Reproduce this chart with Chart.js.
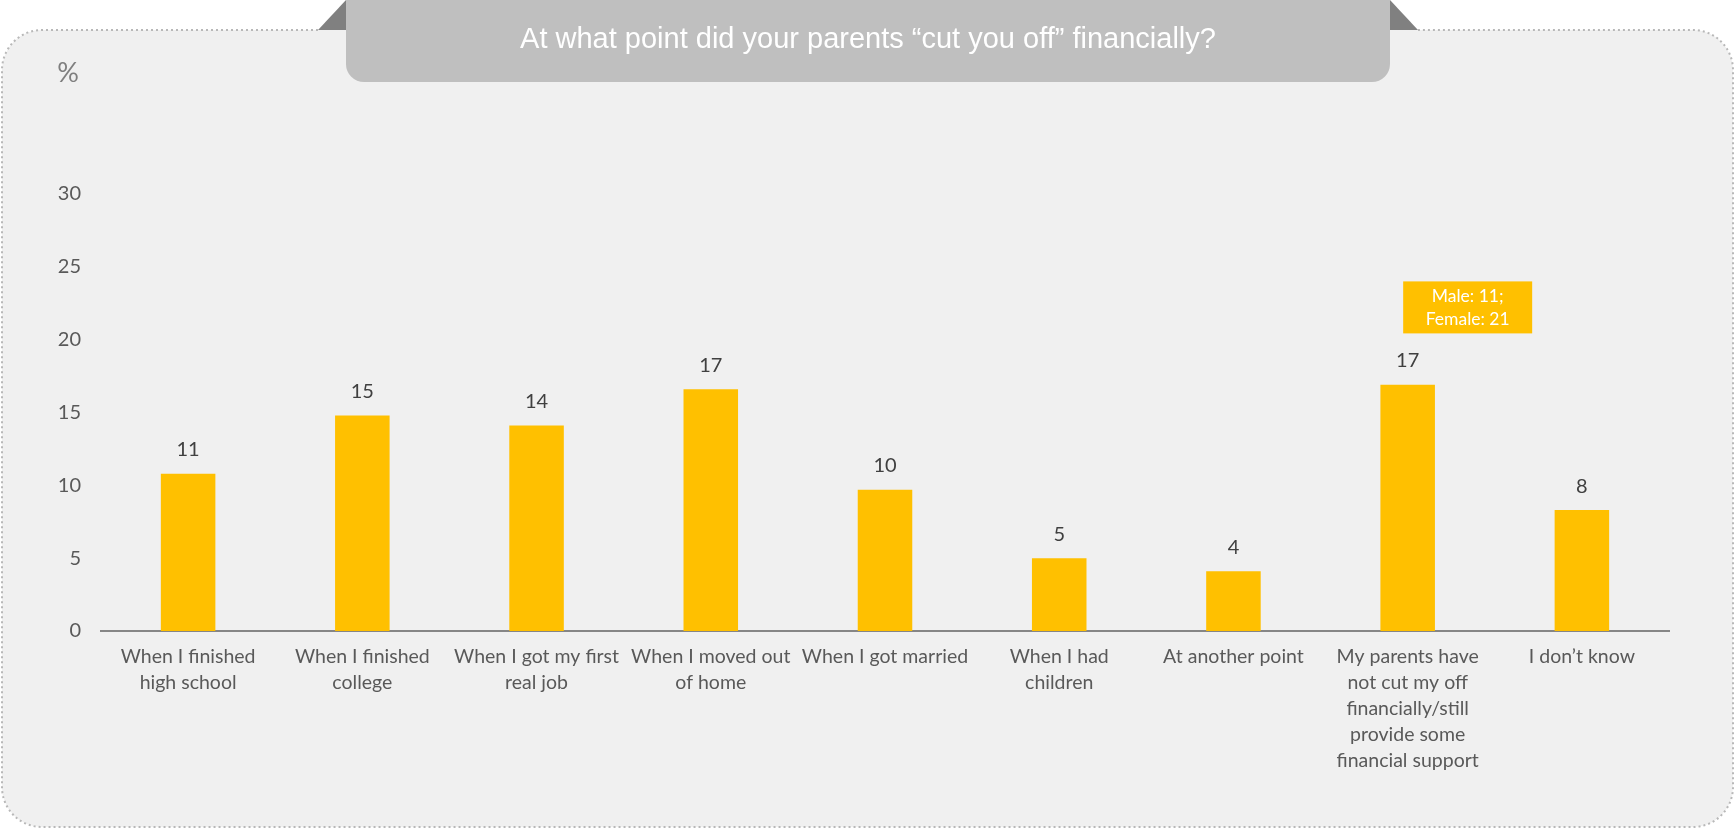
<!DOCTYPE html>
<html>
<head>
<meta charset="utf-8">
<script src="https://cdn.jsdelivr.net/npm/chart.js@4.4.1/dist/chart.umd.min.js"></script>
<style>
  html, body { margin: 0; padding: 0; background: #ffffff; }
  canvas { display: block; }
</style>
</head>
<body>
<canvas id="grafico" width="1735" height="829"></canvas>
<script>
// Datos del gráfico
var categorias = [
    ['When I finished', 'high school'],
    ['When I finished', 'college'],
    ['When I got my first', 'real job'],
    ['When I moved out', 'of home'],
    'When I got married',
    ['When I had', 'children'],
    'At another point',
    ['My parents have', 'not cut my off', 'financially/still', 'provide some', 'financial support'],
    'I don’t know'
];
var valores = [10.8, 14.8, 14.1, 16.6, 9.7, 5.0, 4.1, 16.9, 8.3];
var ticksY = [0, 5, 10, 15, 20, 25, 30];
var titulo = 'At what point did your parents “cut you off” financially?';
var unidad = '%';
var notaGenero = ['Male: 11;', 'Female: 21'];

var fuente = 'Lato, "Open Sans", sans-serif';
var amarillo = '#FFC000';

// Panel de fondo con borde punteado y la pestaña del título
var fondoPanel = {
    id: 'fondoPanel',
    beforeDraw: function(chart) {
        var ctx = chart.ctx;
        ctx.save();
        ctx.fillStyle = '#ffffff';
        ctx.fillRect(0, 0, chart.width, chart.height);

        var x0 = 2, y0 = 30, x1 = 1733, y1 = 827, r = 40;
        ctx.beginPath();
        ctx.moveTo(x0 + r, y0);
        ctx.lineTo(x1 - r, y0);
        ctx.arcTo(x1, y0, x1, y0 + r, r);
        ctx.lineTo(x1, y1 - r);
        ctx.arcTo(x1, y1, x1 - r, y1, r);
        ctx.lineTo(x0 + r, y1);
        ctx.arcTo(x0, y1, x0, y1 - r, r);
        ctx.lineTo(x0, y0 + r);
        ctx.arcTo(x0, y0, x0 + r, y0, r);
        ctx.closePath();
        ctx.fillStyle = '#f0f0f0';
        ctx.fill();

        // borde punteado, sin el tramo que tapa la pestaña
        ctx.beginPath();
        ctx.moveTo(318, y0);
        ctx.lineTo(x0 + r, y0);
        ctx.arcTo(x0, y0, x0, y0 + r, r);
        ctx.lineTo(x0, y1 - r);
        ctx.arcTo(x0, y1, x0 + r, y1, r);
        ctx.lineTo(x1 - r, y1);
        ctx.arcTo(x1, y1, x1, y1 - r, r);
        ctx.lineTo(x1, y0 + r);
        ctx.arcTo(x1, y0, x1 - r, y0, r);
        ctx.lineTo(1418, y0);
        ctx.setLineDash([2, 3]);
        ctx.lineWidth = 2;
        ctx.strokeStyle = '#b8b8b8';
        ctx.stroke();
        ctx.setLineDash([]);

        // pestaña del título
        var bx0 = 346, bx1 = 1390, by1 = 82, br = 18;
        ctx.fillStyle = '#808080';
        ctx.beginPath();
        ctx.moveTo(318, 30); ctx.lineTo(bx0, 0); ctx.lineTo(bx0, 30); ctx.closePath();
        ctx.fill();
        ctx.beginPath();
        ctx.moveTo(bx1, 0); ctx.lineTo(1418, 30); ctx.lineTo(bx1, 30); ctx.closePath();
        ctx.fill();

        ctx.fillStyle = '#bfbfbf';
        ctx.beginPath();
        ctx.moveTo(bx0, 0);
        ctx.lineTo(bx1, 0);
        ctx.lineTo(bx1, by1 - br);
        ctx.arcTo(bx1, by1, bx1 - br, by1, br);
        ctx.lineTo(bx0 + br, by1);
        ctx.arcTo(bx0, by1, bx0, by1 - br, br);
        ctx.closePath();
        ctx.fill();

        ctx.fillStyle = '#ffffff';
        ctx.font = '29px "Liberation Sans", Arial, sans-serif';
        ctx.textAlign = 'center';
        ctx.textBaseline = 'alphabetic';
        ctx.fillText(titulo, (bx0 + bx1) / 2, 48);

        ctx.fillStyle = '#7f7f7f';
        ctx.font = '27px ' + fuente;
        ctx.textAlign = 'center';
        ctx.textBaseline = 'middle';
        ctx.fillText(unidad, 68, 73);
        ctx.restore();
    }
};

// Valores encima de cada barra y nota por género
var etiquetas = {
    id: 'etiquetas',
    afterDatasetsDraw: function(chart) {
        var ctx = chart.ctx;
        var meta = chart.getDatasetMeta(0);
        ctx.save();
        ctx.fillStyle = '#404040';
        ctx.font = '20px ' + fuente;
        ctx.textAlign = 'center';
        ctx.textBaseline = 'middle';
        meta.data.forEach(function(barra, i) {
            ctx.fillText(Math.round(valores[i]), barra.x, barra.y - 24);
        });

        var xs = chart.scales.x, ys = chart.scales.y;
        var cx = xs.getPixelForValue(7) + 60;
        var top = ys.getPixelForValue(24);
        var w = 129, h = 52;
        ctx.fillStyle = amarillo;
        ctx.fillRect(cx - w / 2, top, w, h);
        ctx.fillStyle = '#ffffff';
        ctx.font = '17.5px ' + fuente;
        ctx.fillText(notaGenero[0], cx, top + 15);
        ctx.fillText(notaGenero[1], cx, top + 38);
        ctx.restore();
    }
};

var ctxGrafico = document.getElementById('grafico').getContext('2d');

var grafico = new Chart(ctxGrafico, {
    type: 'bar',
    data: {
        labels: categorias,
        datasets: [{
            data: valores,
            backgroundColor: amarillo,
            borderWidth: 0,
            barPercentage: 0.313,
            categoryPercentage: 1
        }]
    },
    options: {
        responsive: false,
        animation: false,
        layout: {
            padding: { top: 194, right: 66, left: 0, bottom: 0 }
        },
        plugins: {
            legend: { display: false },
            tooltip: { enabled: false }
        },
        scales: {
            y: {
                min: 0,
                max: 30,
                afterBuildTicks: function(scale) {
                    scale.ticks = ticksY.map(function(v) { return { value: v }; });
                },
                afterFit: function(scale) { scale.width = 101; },
                grid: { display: false, drawTicks: false },
                border: { display: false },
                ticks: {
                    color: '#595959',
                    font: { family: fuente, size: 20 },
                    padding: 20
                }
            },
            x: {
                afterFit: function(scale) { scale.height = 198; },
                grid: { display: false, drawTicks: false },
                border: { display: true, color: '#868686', width: 2 },
                ticks: {
                    color: '#595959',
                    font: { family: fuente, size: 19.5, lineHeight: 26 / 19.5 },
                    padding: 13,
                    maxRotation: 0,
                    autoSkip: false
                }
            }
        }
    },
    plugins: [fondoPanel, etiquetas]
});
</script>
</body>
</html>
